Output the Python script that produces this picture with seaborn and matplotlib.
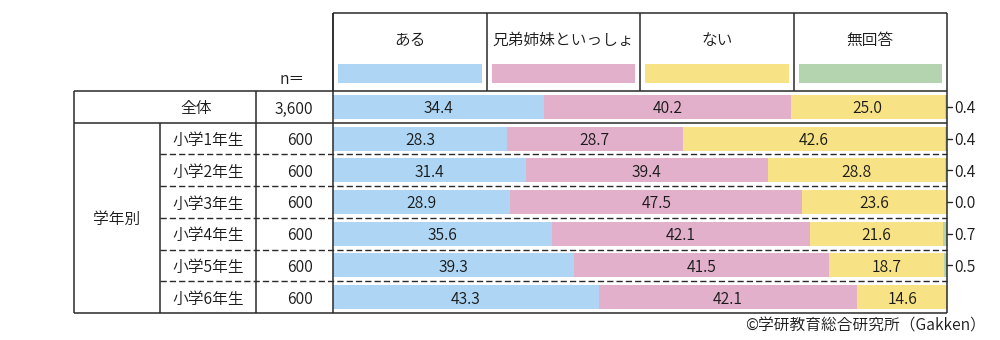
import matplotlib
matplotlib.use("Agg")
import matplotlib.pyplot as plt
from matplotlib.patches import Rectangle
import numpy as np
import seaborn as sns

sns.set_theme(style="white")
plt.rcParams["font.family"] = ["Noto Sans CJK JP", "DejaVu Sans"]
plt.rcParams["font.weight"] = 350

# ---- data ----
rows = ["全体", "小学1年生", "小学2年生", "小学3年生", "小学4年生", "小学5年生", "小学6年生"]
counts = ["3,600", "600", "600", "600", "600", "600", "600"]
answers = ["ある", "兄弟姉妹といっしょ", "ない", "無回答"]
aru = [34.4, 28.3, 31.4, 28.9, 35.6, 39.3, 43.3]
issho = [40.2, 28.7, 39.4, 47.5, 42.1, 41.5, 42.1]
nai = [25.0, 42.6, 28.8, 23.6, 21.6, 18.7, 14.6]
mukaitou = [0.4, 0.4, 0.4, 0.0, 0.7, 0.5, 0.0]
mukaitou_labeled = [True, True, True, True, True, True, False]
group_label = "学年別"
n_label = "n＝"
credit = "©学研教育総合研究所（Gakken）"

colors = ["#AED6F4", "#E2B0CB", "#F7E385", "#B3D4AF"]
ink = "#1a1a1a"
line_c = "#2a2a2a"
fs = 11.3

# ---- layout (pixels) ----
W, H = 1000, 340
X_BAR0, X_BAR1 = 333, 947
Y_TAB0, Y_TAB1 = 91, 313
Y_HEAD = 13
X_LEFT, X_GRP, X_N = 74, 160, 256
row_h = (Y_TAB1 - Y_TAB0) / len(rows)

fig = plt.figure(figsize=(W / 100, H / 100), dpi=100)
ax = fig.add_axes([X_BAR0 / W, 1 - Y_TAB1 / H, (X_BAR1 - X_BAR0) / W, (Y_TAB1 - Y_TAB0) / H])

series = [aru, issho, nai, mukaitou]
cum = np.cumsum(np.array(series), axis=0)

# stacked bars: draw cumulative totals from the widest down
for k in reversed(range(len(series))):
    sns.barplot(x=cum[k], y=rows, order=rows, orient="h", color=colors[k],
                saturation=1, width=0.76, linewidth=0, errorbar=None, ax=ax)

ax.set_xlim(0, 100)
ax.set_ylim(len(rows) - 0.5, -0.5)
ax.axis("off")

# segment value labels
for k in range(3):
    for i, v in enumerate(series[k]):
        cx = cum[k][i] - v / 2
        ax.text(cx, i + 0.06, f"{v:.1f}", ha="center", va="center", fontsize=fs, color=ink)

# no-answer values outside the right edge
for i, (v, shown) in enumerate(zip(mukaitou, mukaitou_labeled)):
    if shown:
        ax.plot([100, 100.8], [i, i], color=line_c, lw=1, clip_on=False)
        ax.text(101.2, i + 0.06, f"{v:.1f}", ha="left", va="center", fontsize=fs, color=ink)

# ---- table frame and text ----
ov = fig.add_axes([0, 0, 1, 1])
ov.set_xlim(0, W)
ov.set_ylim(H, 0)
ov.axis("off")

lw = 1.1
def hline(y, x0, x1, **kw):
    ov.plot([x0, x1], [y, y], color=line_c, lw=lw, solid_capstyle="butt", **kw)

def vline(x, y0, y1):
    ov.plot([x, x], [y0, y1], color=line_c, lw=lw, solid_capstyle="butt")

bounds = [Y_TAB0 + k * row_h for k in range(len(rows) + 1)]

# header box with legend
col_w = (X_BAR1 - X_BAR0) / len(answers)
hline(Y_HEAD, X_BAR0, X_BAR1)
for j, name in enumerate(answers):
    x0 = X_BAR0 + j * col_w
    vline(x0, Y_HEAD, Y_TAB0)
    ov.text(x0 + col_w / 2, 40, name, ha="center", va="center", fontsize=fs, color=ink)
    ov.add_patch(Rectangle((x0 + 5, 64), col_w - 10, 19, facecolor=colors[j], edgecolor="none"))
vline(X_BAR1, Y_HEAD, Y_TAB1)
vline(X_BAR0, Y_HEAD, Y_TAB1)

ov.text(292, 80, n_label, ha="center", va="center", fontsize=fs, color=ink)

# rows
hline(bounds[0], X_LEFT, X_BAR1)
hline(bounds[1], X_LEFT, X_BAR1)
for b in bounds[2:-1]:
    ov.plot([X_GRP, X_BAR1], [b, b], color=line_c, lw=1, linestyle=(0, (4.5, 2.2)))
hline(bounds[-1], X_LEFT, X_BAR1)
vline(X_LEFT, bounds[0], bounds[-1])
vline(X_GRP, bounds[1], bounds[-1])
vline(X_N, bounds[0], bounds[-1])

for i, (name, n) in enumerate(zip(rows, counts)):
    yc = (bounds[i] + bounds[i + 1]) / 2 + 2
    if i == 0:
        ov.text(196, yc, name, ha="center", va="center", fontsize=fs, color=ink)
    else:
        ov.text((X_GRP + X_N) / 2, yc, name, ha="center", va="center", fontsize=fs, color=ink)
    ov.text(313, yc, n, ha="right", va="center", fontsize=fs, color=ink)

ov.text((X_LEFT + X_GRP) / 2, (bounds[1] + bounds[-1]) / 2 + 2, group_label,
        ha="center", va="center", fontsize=fs, color=ink)

ov.text(986, 326, credit, ha="right", va="center", fontsize=fs, color=ink)

fig.savefig("out.png", dpi=100, facecolor="white")
